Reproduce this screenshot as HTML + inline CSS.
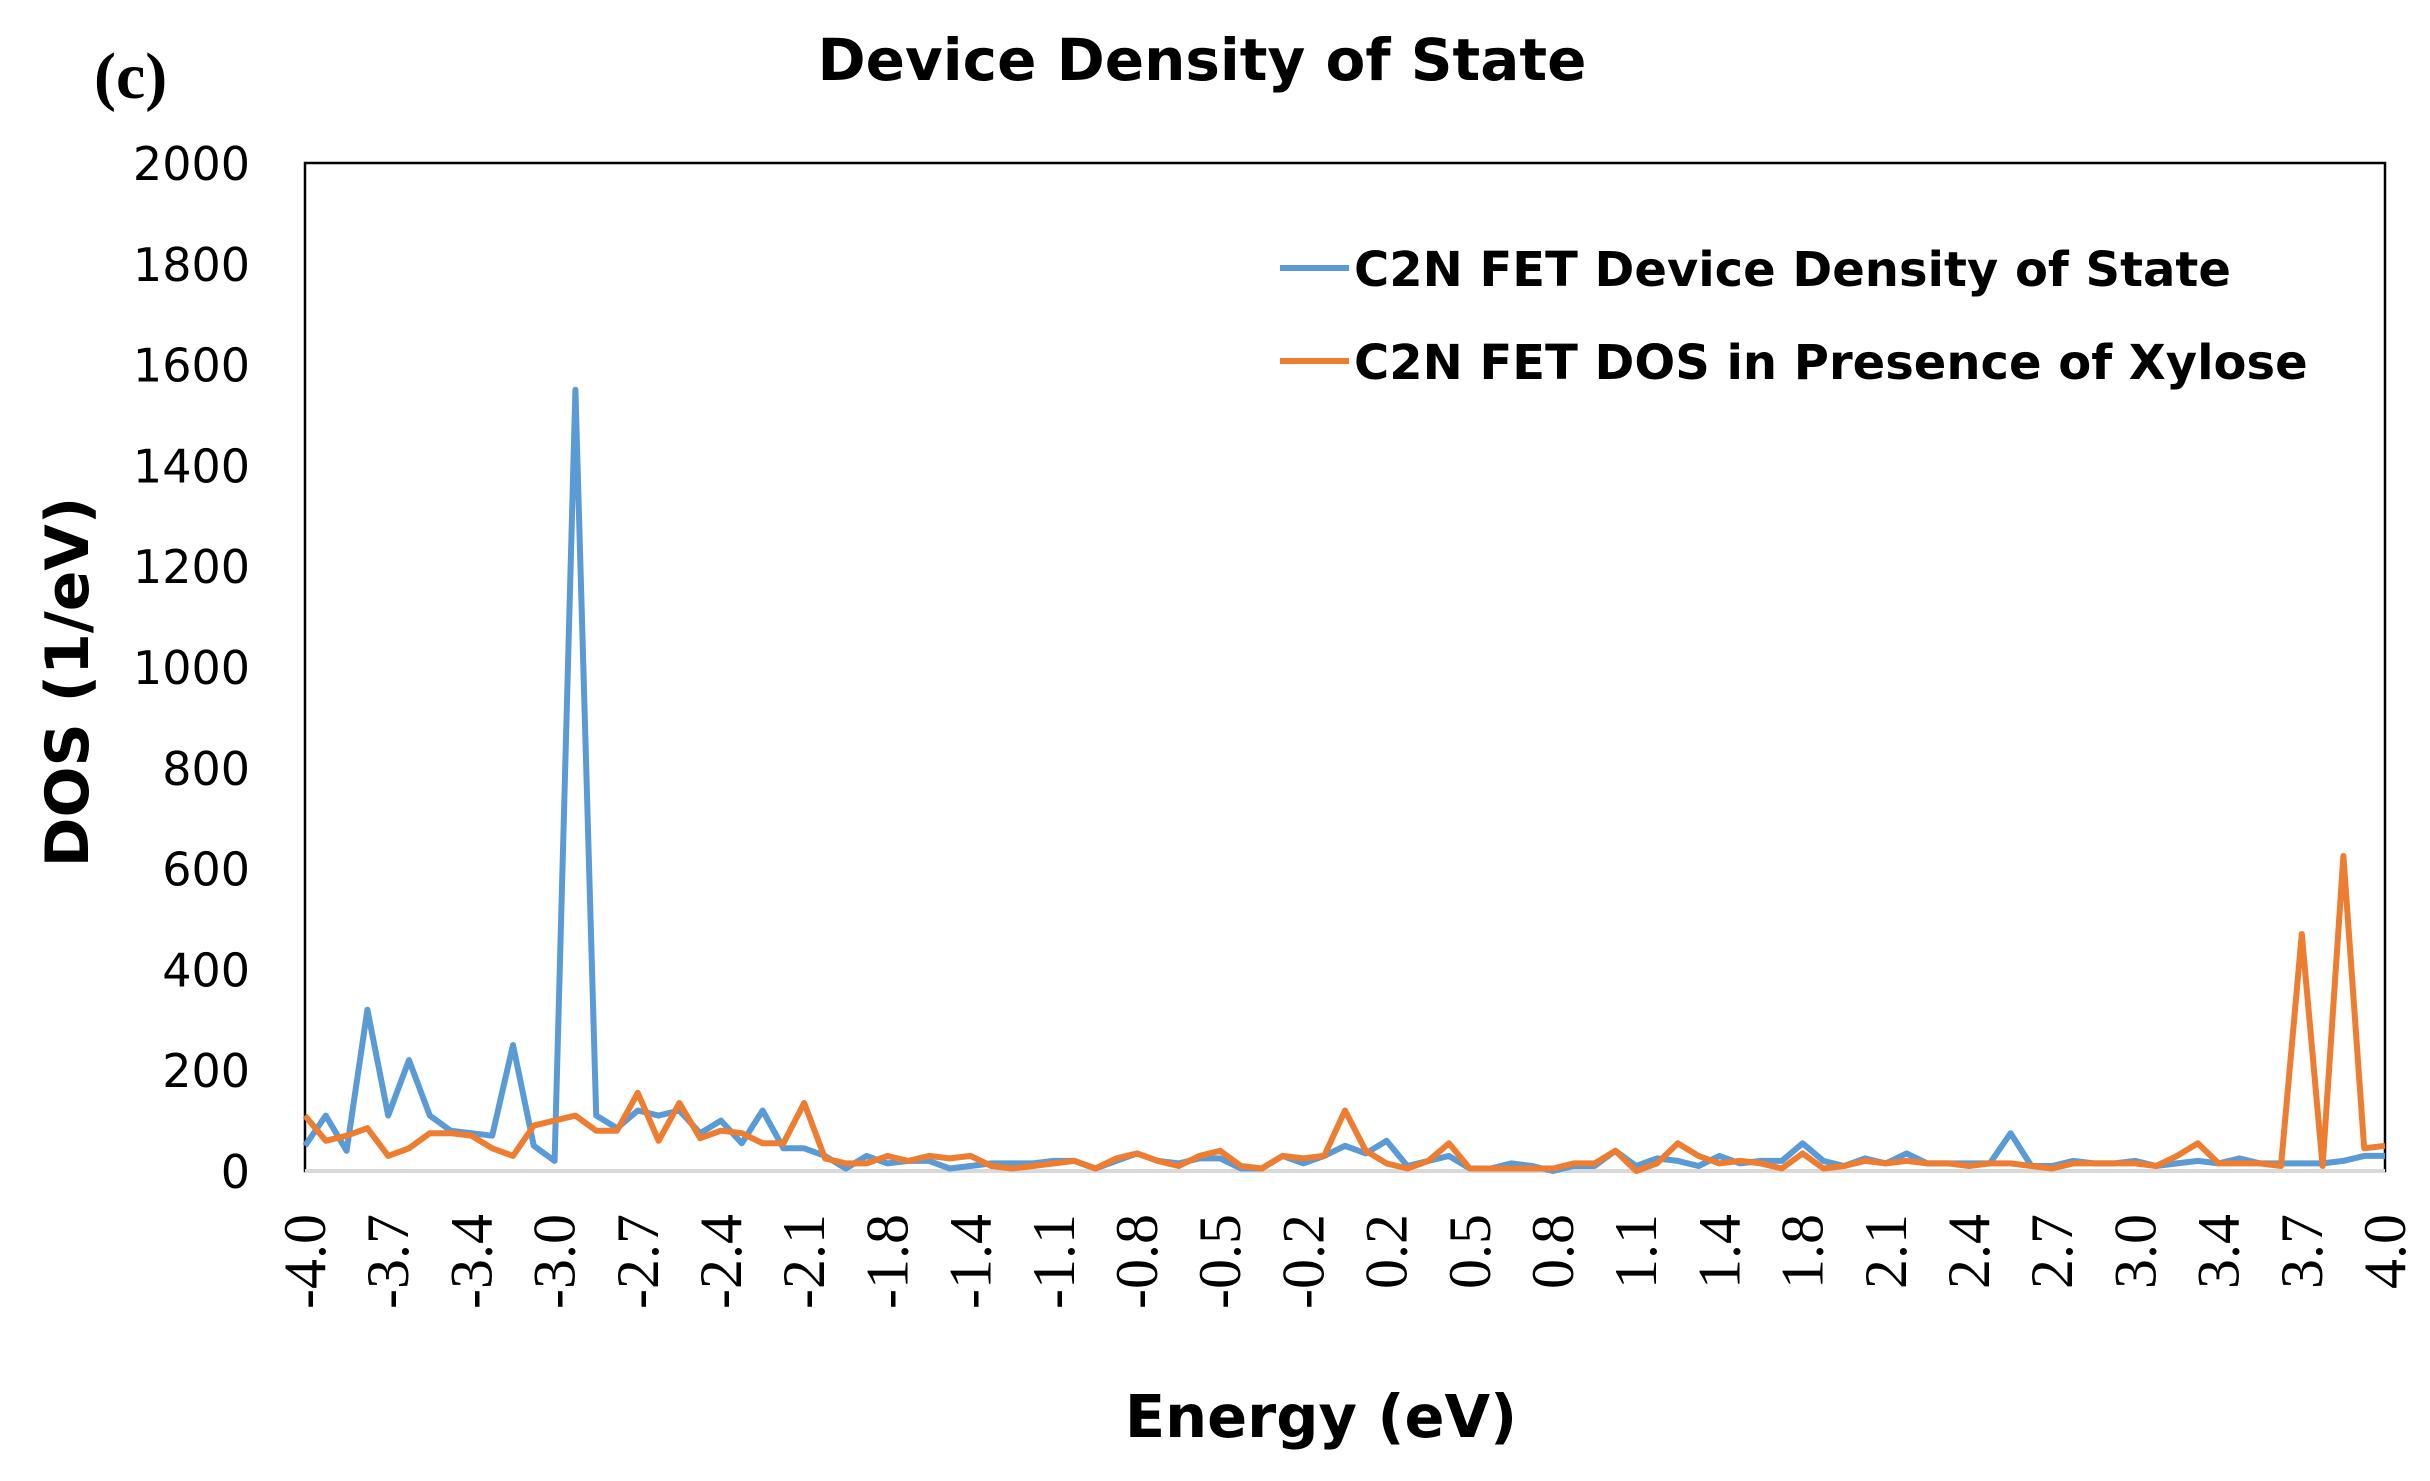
<!DOCTYPE html>
<html><head><meta charset="utf-8"><style>
html,body{margin:0;padding:0;background:#fff;}
svg{display:block;}
</style></head><body>
<svg id="s" width="2430" height="1481" xmlns="http://www.w3.org/2000/svg">
<rect width="2430" height="1481" fill="#fff"/>
<text x="94" y="98" font-family="Liberation Serif, serif" font-weight="bold" font-size="66" fill="#000">(c)</text>
<text x="1202" y="80" text-anchor="middle" font-family="DejaVu Sans, sans-serif" font-weight="bold" font-size="58" fill="#000">Device Density of State</text>
<rect x="305" y="163" width="2080" height="1008" fill="none" stroke="#000" stroke-width="2.5"/>
<line x1="305" y1="1171" x2="2385" y2="1171" stroke="#d9d9d9" stroke-width="4"/>
<g id="yt" font-family="DejaVu Sans, sans-serif" font-size="46" text-anchor="end" fill="#000"></g>
<g id="xt" font-family="Liberation Serif, serif" font-size="60" text-anchor="end" fill="#000"></g>
<text transform="translate(88,682) rotate(-90)" text-anchor="middle" font-family="DejaVu Sans, sans-serif" font-weight="bold" font-size="60" fill="#000">DOS (1/eV)</text>
<text x="1321" y="1437" text-anchor="middle" font-family="DejaVu Sans, sans-serif" font-weight="bold" font-size="59" fill="#000">Energy (eV)</text>
<polyline id="pb" fill="none" stroke="#5b9bd5" stroke-width="6" stroke-linejoin="round"/>
<polyline id="po" fill="none" stroke="#ed7d31" stroke-width="6" stroke-linejoin="round"/>
<line x1="1280" y1="268" x2="1349" y2="268" stroke="#5b9bd5" stroke-width="6"/>
<line x1="1280" y1="361" x2="1349" y2="361" stroke="#ed7d31" stroke-width="6"/>
<text x="1354" y="286" font-family="DejaVu Sans, sans-serif" font-weight="bold" font-size="48" fill="#000">C2N FET Device Density of State</text>
<text x="1354" y="379" font-family="DejaVu Sans, sans-serif" font-weight="bold" font-size="48" fill="#000">C2N FET DOS in Presence of Xylose</text>
</svg>
<script>
var B=[50,110,40,320,110,220,110,80,75,70,250,50,20,1550,110,85,120,110,120,75,100,55,120,45,45,30,5,30,15,20,20,5,10,15,15,15,20,20,5,20,35,20,15,25,25,5,5,30,15,30,50,35,60,10,20,30,5,5,15,10,0,10,10,40,10,25,20,10,30,15,20,20,55,20,10,25,15,35,15,15,15,15,75,10,10,20,15,15,20,10,15,20,15,25,15,15,15,15,20,30,30];
var O=[110,60,70,85,30,45,75,75,70,45,30,90,100,110,80,80,155,60,135,65,80,75,55,55,135,25,15,15,30,20,30,25,30,10,5,10,15,20,5,25,35,20,10,30,40,10,5,30,25,30,120,40,15,5,20,55,5,5,5,5,5,15,15,40,0,15,55,30,15,20,15,5,35,5,10,20,15,20,15,15,10,15,15,10,5,15,15,15,15,10,30,55,15,15,15,10,470,10,625,45,50];
var x0=305,x1=2385,y0=1171,k=0.504,dx=(x1-x0)/100;
function pts(a){return a.map(function(v,i){return (x0+i*dx).toFixed(1)+","+(y0-v*k).toFixed(1)}).join(" ");}
document.getElementById("pb").setAttribute("points",pts(B));
document.getElementById("po").setAttribute("points",pts(O));
var ns="http://www.w3.org/2000/svg",yt=document.getElementById("yt"),xt=document.getElementById("xt");
for(var v=0;v<=2000;v+=200){var t=document.createElementNS(ns,"text");t.setAttribute("x",250);t.setAttribute("y",(y0-v*k+17).toFixed(1));t.textContent=v;yt.appendChild(t);}
var L=["-4.0","-3.7","-3.4","-3.0","-2.7","-2.4","-2.1","-1.8","-1.4","-1.1","-0.8","-0.5","-0.2","0.2","0.5","0.8","1.1","1.4","1.8","2.1","2.4","2.7","3.0","3.4","3.7","4.0"];
for(var i=0;i<L.length;i++){var x=x0+i*(x1-x0)/25;var t=document.createElementNS(ns,"text");t.setAttribute("transform","translate("+(x+20).toFixed(1)+",1214) rotate(-90)");t.textContent=L[i];xt.appendChild(t);}
</script>
</body></html>
